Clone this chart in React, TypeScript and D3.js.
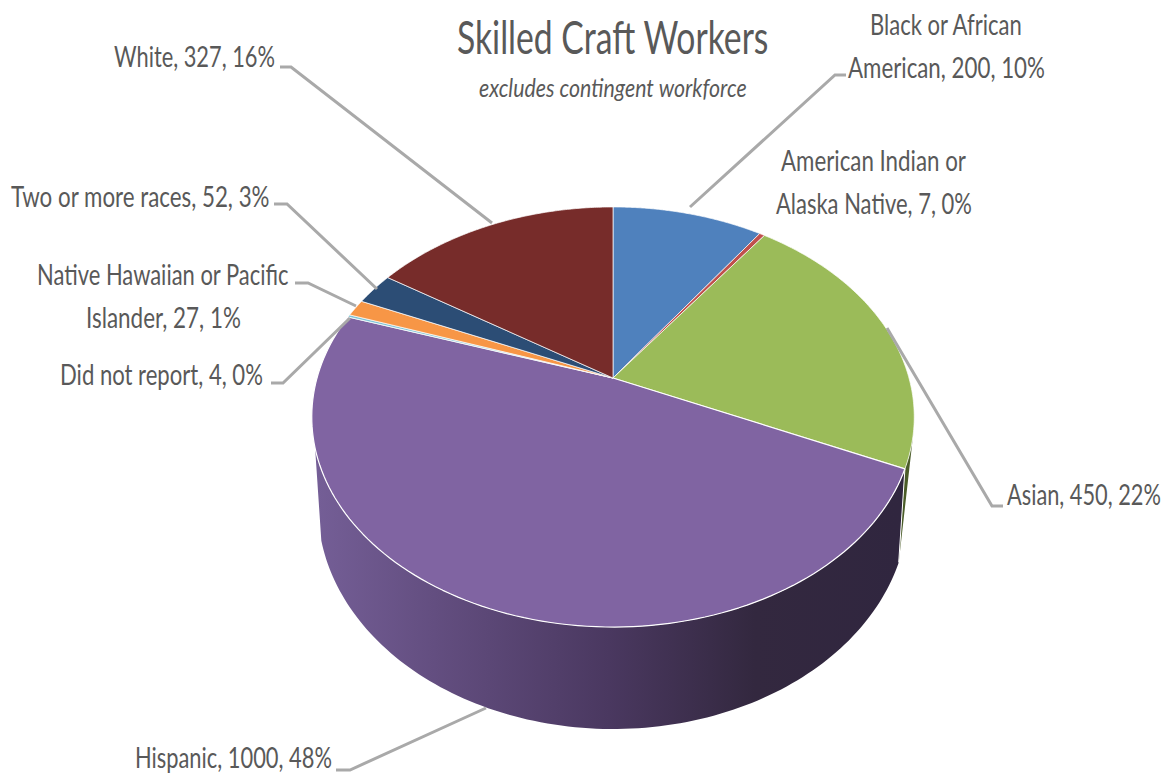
import React from "react";
import * as d3 from "d3";

const categories = ["Black or African American","American Indian or Alaska Native","Asian","Hispanic","Did not report","Native Hawaiian or Pacific Islander","Two or more races","White"];
const values = [200,7,450,1000,4,27,52,327];
const colors = ["#4f81bd","#c0504d","#9bbb59","#8064a2","#7fc4d6","#f79646","#2c4d75","#772c2a"];
const titleText = "Skilled Craft Workers";
const subtitleText = "excludes contingent workforce";

const labelLines = [
  { t: "White, 327, 16%", x: 114, w: 161, y: 67 },
  { t: "Two or more races, 52, 3%", x: 11, w: 259, y: 207 },
  { t: "Native Hawaiian or Pacific", x: 37, w: 252, y: 285 },
  { t: "Islander, 27, 1%", x: 86, w: 155, y: 328 },
  { t: "Did not report, 4, 0%", x: 60, w: 203, y: 385 },
  { t: "Black or African", x: 870, w: 153, y: 35 },
  { t: "American, 200, 10%", x: 848, w: 197, y: 78 },
  { t: "American Indian or", x: 781, w: 185, y: 171 },
  { t: "Alaska Native, 7, 0%", x: 776, w: 196, y: 214 },
  { t: "Asian, 450, 22%", x: 1007, w: 154, y: 505 },
  { t: "Hispanic, 1000, 48%", x: 135, w: 197, y: 768 },
];
const leaders: [number, number][][] = [
  [[280,67],[291,67],[492,223]],
  [[274,204],[287,204],[377,289]],
  [[295,283],[308,283],[356,306]],
  [[271,383],[283,383],[350,318]],
  [[846,75],[835,75],[690,207]],
  [[1003,506],[992,506],[887,328]],
  [[336,770],[350,770],[486,708]],
];

// perspective projection of the pie disc
const X0 = 613, R = 296, C = 0.1857, A = -132.6;
const TOP = { D: 1, B: 378 };
const BOT = { D: 1.02, B: 729 * (1.02 - C) - 132.6 };
function proj(theta: number, p: { D: number; B: number }): [number, number] {
  const t = Math.cos(theta), s = Math.sin(theta), den = p.D + C * t;
  return [X0 + (R * s) / den, (A * t + p.B) / den];
}
const rim = (a0: number, a1: number, p: { D: number; B: number }) =>
  d3.range(0, 121).map((i) => proj(a0 + ((a1 - a0) * i) / 120, p));
const line = d3.line();
const rad = (deg: number) => (deg * Math.PI) / 180;

const FONT = "Lato, 'Open Sans', sans-serif";
const ctx = document.createElement("canvas").getContext("2d")!;
function Fit({ t, x, y, w, size, italic }: { t: string; x: number; y: number; w: number; size: number; italic?: boolean }) {
  ctx.font = `${italic ? "italic " : ""}${size}px ${FONT}`;
  const sx = w / ctx.measureText(t).width;
  return (
    <text transform={`translate(${x},${y}) scale(${sx},1)`} fontSize={size} fontStyle={italic ? "italic" : undefined}>{t}</text>
  );
}

export default function App() {
  const arcs = d3.pie<number>().sort(null).value((d) => d)(values);
  const asian = arcs[2], hisp = arcs[3];
  const apex: [number, number] = [X0, TOP.B];
  const green = [...rim(rad(105), asian.endAngle, TOP), proj(asian.endAngle, BOT)];
  const wallEnd = rad(251);
  const wall = [...rim(hisp.startAngle, wallEnd, TOP), ...rim(wallEnd, hisp.startAngle, BOT)];
  return (
    <svg width={1170} height={783} style={{ position: "absolute", left: 0, top: 0, background: "#fff" }}>
      <defs>
        <linearGradient id="w" gradientUnits="userSpaceOnUse" x1={318} x2={900} y1={0} y2={0}>
          <stop offset="0" stopColor="#745e96" />
          <stop offset="0.2" stopColor="#634e80" />
          <stop offset="0.5" stopColor="#4a3860" />
          <stop offset="0.75" stopColor="#33283f" />
          <stop offset="1" stopColor="#30263f" />
        </linearGradient>
      </defs>
      <path d={line(green) + "Z"} fill="#4a5c28" />
      <path d={line(wall) + "Z"} fill="url(#w)" />
      <path d={line([proj(hisp.startAngle, TOP), proj(hisp.startAngle, BOT)])!} stroke="#fff" strokeWidth={1} fill="none" />
      {arcs.map((a, i) => (
        <path key={categories[i]} d={line([apex, ...rim(a.startAngle, a.endAngle, TOP)]) + "Z"} fill={colors[i]} stroke="#fff" strokeWidth={i === 3 ? 1.2 : 0.7} strokeLinejoin="round" />
      ))}
      {leaders.map((l, i) => (
        <path key={i} d={line(l)!} fill="none" stroke="#a9a9a9" strokeWidth={3} />
      ))}
      <g fontFamily={FONT} fill="#595959">
        <Fit t={titleText} x={457} y={54} w={312} size={46} />
        <Fit t={subtitleText} x={479} y={97} w={268} size={26} italic />
        {labelLines.map((l) => (
          <Fit key={l.t} t={l.t} x={l.x} y={l.y} w={l.w} size={29} />
        ))}
      </g>
    </svg>
  );
}
